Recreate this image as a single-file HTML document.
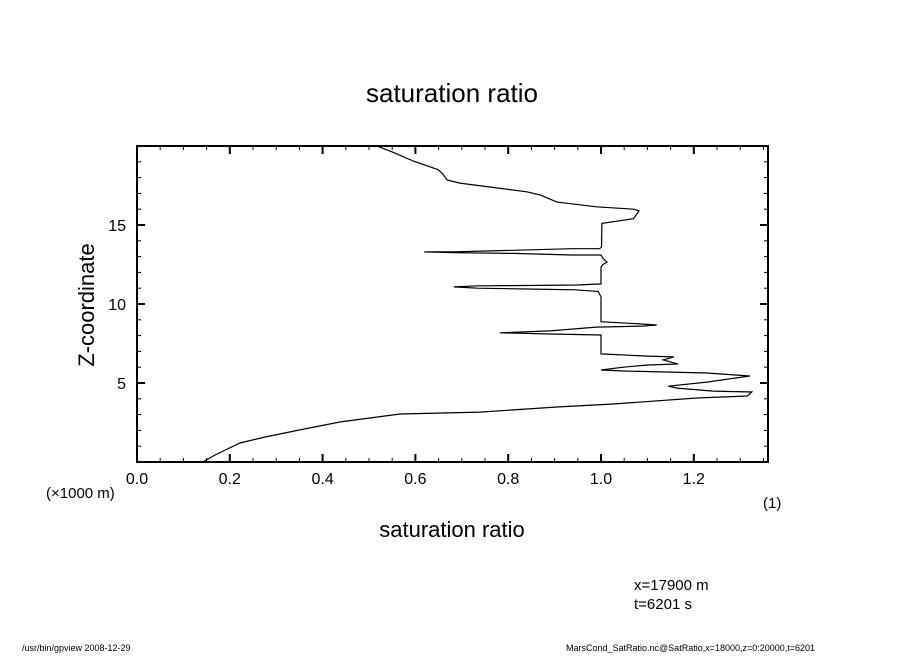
<!DOCTYPE html>
<html><head><meta charset="utf-8"><style>
body{margin:0;background:#fff;}
svg text{font-family:"Liberation Sans",sans-serif;fill:#000;}
</style></head><body>
<svg width="904" height="654" viewBox="0 0 904 654" xmlns="http://www.w3.org/2000/svg">
<rect width="904" height="654" fill="#fff"/>
<text x="452" y="102" font-size="26" text-anchor="middle">saturation ratio</text>
<g id="axes"></g>
<path id="curve" fill="none" stroke="#000" stroke-width="1.2"/>
<rect x="137" y="146" width="631" height="316" fill="none" stroke="#000" stroke-width="2"/>
<text x="452" y="537" font-size="22" text-anchor="middle">saturation ratio</text>
<text transform="translate(94,305) rotate(-90)" font-size="22" text-anchor="middle">Z-coordinate</text>
<text x="46" y="498" font-size="15">(×1000 m)</text>
<text x="763" y="508" font-size="15">(1)</text>
<text x="634" y="590" font-size="15">x=17900 m</text>
<text x="634" y="609" font-size="15">t=6201 s</text>
<text x="22" y="651" font-size="9">/usr/bin/gpview   2008-12-29</text>
<text x="566" y="651" font-size="9">MarsCond_SatRatio.nc@SatRatio,x=18000,z=0:20000,t=6201</text>
</svg>
<script>
const xTicks=[0.0,0.2,0.4,0.6,0.8,1.0,1.2];
const xTickLabels=["0.0","0.2","0.4","0.6","0.8","1.0","1.2"];
const yTicks=[5,10,15];
const yTickLabels=["5","10","15"];
const satRatio=[0.517,0.552,0.595,0.649,0.66,0.668,0.696,0.84,0.869,0.905,0.99,1.07,1.082,1.07,1.002,1.001,0.997,0.937,0.81,0.683,0.619,0.683,0.81,0.937,1.0,1.004,1.013,1.004,1.0,1.0,0.948,0.84,0.735,0.683,0.735,0.84,0.944,0.994,1.0,1.0,1.0,1.09,1.12,1.09,0.99,0.89,0.782,0.819,0.89,1.0,1.0,1.10,1.157,1.134,1.166,1.10,1.048,1.0,1.048,1.228,1.321,1.228,1.145,1.164,1.242,1.325,1.315,1.207,1.026,0.905,0.739,0.567,0.437,0.351,0.276,0.222,0.168,0.142];
const zKm=[20,19.6,19.05,18.5,18.2,17.85,17.65,17.1,16.9,16.45,16.15,16.0,15.9,15.4,15.1,13.6,13.5,13.5,13.4,13.3,13.3,13.25,13.2,13.1,13.1,12.9,12.65,12.5,12.35,11.27,11.2,11.17,11.15,11.08,11.0,10.95,10.9,10.8,10.45,8.88,8.88,8.73,8.67,8.6,8.54,8.3,8.18,8.15,8.1,8.04,6.84,6.7,6.65,6.46,6.2,6.14,6.0,5.82,5.76,5.63,5.44,5.06,4.8,4.68,4.49,4.43,4.18,4.05,3.67,3.48,3.16,3.04,2.53,2.03,1.58,1.2,0.44,0];
const X0=137,X1=768,Y0=462,Y1=146,XMAX=(768-137)/464,ZMAX=20;
const sx=v=>X0+v/XMAX*(X1-X0);
const sy=z=>Y0-z/ZMAX*(Y0-Y1);
const NS="http://www.w3.org/2000/svg";
const axes=document.getElementById('axes');
function line(x1,y1,x2,y2,w,name){const l=document.createElementNS(NS,'line');l.setAttribute('x1',x1);l.setAttribute('y1',y1);l.setAttribute('x2',x2);l.setAttribute('y2',y2);l.setAttribute('stroke','#000');l.setAttribute('stroke-width',w);


axes.appendChild(l);}
function text(x,y,s,anchor,name){const t=document.createElementNS(NS,'text');t.setAttribute('x',x);t.setAttribute('y',y);t.setAttribute('font-size','16');t.setAttribute('text-anchor',anchor);t.textContent=s;


axes.appendChild(t);}
for(let i=0;i*0.05<=XMAX+1e-9;i++){const v=i*0.05,x=sx(v),maj=i%4===0,L=maj?8:4,w=maj?2:1;
line(x,Y0,x,Y0-L,w,'x-tick');line(x,Y1,x,Y1+L,w,'x-tick-top');}
for(let z=1;z<ZMAX;z++){const y=sy(z),maj=z%5===0,L=maj?8:4,w=maj?2:1;
line(X0,y,X0+L,y,w,'y-tick');line(X1,y,X1-L,y,w,'y-tick-right');}
xTicks.forEach((v,i)=>text(sx(v),484,xTickLabels[i],'middle','x-tick-label'));
yTicks.forEach((z,i)=>text(126,sy(z)+6,yTickLabels[i],'end','y-tick-label'));
document.getElementById('curve').setAttribute('d',satRatio.map((v,i)=>(i?'L':'M')+sx(v).toFixed(1)+' '+sy(zKm[i]).toFixed(1)).join(' '));
</script>
</body></html>
